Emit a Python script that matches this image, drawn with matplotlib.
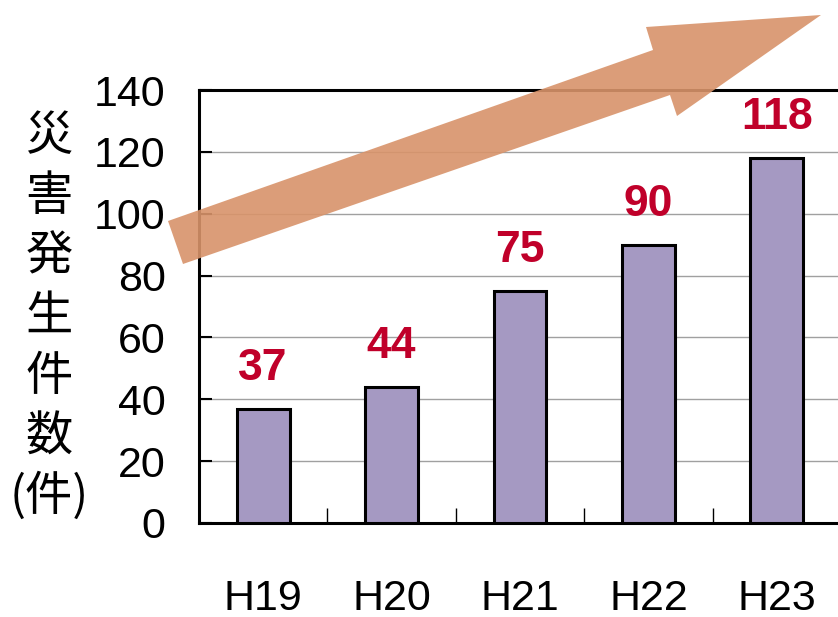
import matplotlib
matplotlib.use("Agg")
import matplotlib.pyplot as plt
from matplotlib import font_manager
from matplotlib.patches import Polygon
from matplotlib.ticker import FixedLocator


years = ["H19", "H20", "H21", "H22", "H23"]
counts = [37, 44, 75, 90, 118]
y_ticks = [0, 20, 40, 60, 80, 100, 120, 140]
ylabel_chars = ["災", "害", "発", "生", "件", "数", "(件)"]

W, H = 838, 617

installed = {f.name for f in font_manager.fontManager.ttflist}
if "Liberation Sans Narrow" in installed:
    num_font = "Liberation Sans Narrow"
    num_size = 33
else:
    num_font = "Liberation Sans"
    num_size = 31

fig = plt.figure(figsize=(W / 100, H / 100), dpi=100)
ax = fig.add_axes([199 / W, (H - 523) / H, 642 / W, 433 / H])

x = list(range(len(years)))
ax.bar(x, counts, width=0.41, color="#A599C2", edgecolor="black",
       linewidth=2.2, zorder=3)

ax.set_xlim(-0.5, 4.5)
ax.set_ylim(0, 140)
ax.set_yticks(y_ticks)
ax.set_yticklabels([str(t) for t in y_ticks], fontfamily=num_font,
                   fontsize=num_size)
ax.set_xticks(x)
ax.set_xticklabels(years, fontfamily=num_font, fontsize=num_size)
ax.xaxis.set_minor_locator(FixedLocator([0.5, 1.5, 2.5, 3.5]))

ax.tick_params(axis="x", which="major", length=0, pad=40)
ax.tick_params(axis="x", which="minor", direction="in", length=11,
               width=1.0, color="black")
ax.tick_params(axis="y", direction="in", length=9.5, width=1.5, pad=24)

# 目盛り線
for t in y_ticks[1:-1]:
    ax.axhline(t, color="#a0a0a0", linewidth=1.0, zorder=1)

for s in ["left", "bottom", "top"]:
    ax.spines[s].set_linewidth(2.2)
    ax.spines[s].set_color("black")
ax.spines["right"].set_visible(False)

# 数値ラベル
for i, v in enumerate(counts):
    ax.annotate(str(v), (i, v), xytext=(0, 29), textcoords="offset points",
                ha="center", va="center", fontsize=num_size + 1,
                fontweight="bold", color="#C0002A", fontfamily=num_font)

# 縦書きの軸ラベル
for k, ch in enumerate(ylabel_chars):
    fig.text(49 / W, 1 - (137 + 60 * k) / H, ch, ha="center", va="center",
             fontsize=34, fontfamily=["Noto Sans CJK JP", "DejaVu Sans"])

# 増加傾向の矢印
arrow_px = [(168, 221), (653, 50), (646, 27), (821, 15),
            (677, 116), (670, 95), (183, 264)]
arrow = Polygon([(px / W, 1 - py / H) for px, py in arrow_px], closed=True,
                transform=fig.transFigure, facecolor="#D8936A",
                edgecolor="none", alpha=0.9, zorder=5)
fig.add_artist(arrow)

fig.savefig("out.png", dpi=100)
